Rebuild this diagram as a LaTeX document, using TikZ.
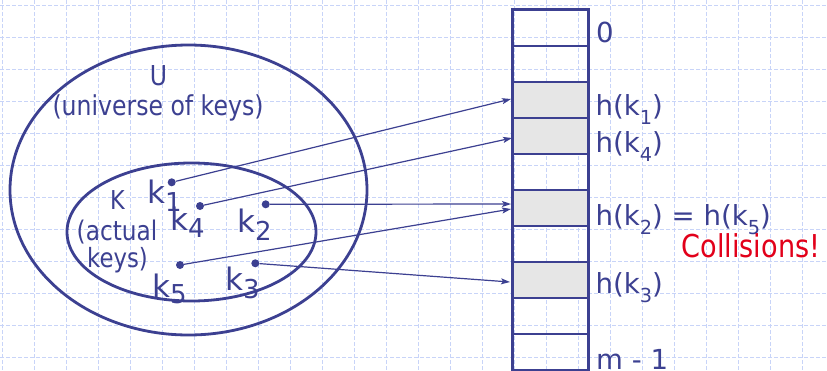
\documentclass[tikz,border=0pt]{standalone}
\usepackage{fontspec}
\setmainfont{DejaVu Sans}
\newfontfamily\narrowf[FakeStretch=0.86]{DejaVu Sans}
\usetikzlibrary{arrows.meta}
\definecolor{ink}{RGB}{60,64,145}
\definecolor{gridc}{RGB}{200,212,248}
\definecolor{cellg}{RGB}{230,230,230}
\definecolor{alert}{RGB}{226,0,26}
\newcommand\lowsub[3]{\raisebox{-#3pt}{\fontsize{#2}{#2}\selectfont #1}}
\begin{document}
\begin{tikzpicture}[x=1pt,y=-1pt,
  gridline/.style={gridc, line width=0.8pt, dash pattern=on 4pt off 2pt},
  lbl/.style={inner sep=0pt, text=ink, anchor=base west},
  ctr/.style={inner sep=0pt, text=ink, anchor=base},
  rightf/.style={font=\fontsize{27.6}{30}\selectfont},
  keyf/.style={font=\fontsize{31}{34}\selectfont},
  setline/.style={ink, line width=2.8pt},
  cellbox/.style={draw=ink, line width=1.5pt, minimum width=74.6pt, minimum height=36pt, inner sep=0pt, anchor=north west},
  shaded/.style={fill=cellg},
  dotn/.style={circle, fill=ink, inner sep=0pt, minimum size=8pt},
  mapto/.style={ink, line width=1.2pt, -{Stealth[length=9pt,width=6pt,inset=2pt]}}]

\fill[white] (0,0) rectangle (827,370);
\useasboundingbox (0,0) rectangle (827,370);
\foreach \i in {0,...,25} \draw[gridline] (2.5+32*\i,0) -- (2.5+32*\i,370);
\foreach \j in {0,...,11} \draw[gridline] (0,5+32*\j) -- (827,5+32*\j);

% sets
\draw[setline] (188.5,190) ellipse [x radius=178.5, y radius=145];
\draw[setline] (191.5,232) ellipse [x radius=124.5, y radius=69];

% table
\node[cellbox] (r0) at (512.7,9) {};
\node[cellbox] (r1) at (512.7,45) {};
\node[cellbox, shaded] (r2) at (512.7,81) {};
\node[cellbox, shaded] (r3) at (512.7,117) {};
\node[cellbox] (r4) at (512.7,153) {};
\node[cellbox, shaded] (r5) at (512.7,189) {};
\node[cellbox] (r6) at (512.7,225) {};
\node[cellbox, shaded] (r7) at (512.7,261) {};
\node[cellbox] (r8) at (512.7,297) {};
\node[cellbox] (r9) at (512.7,333) {};
\draw[ink, line width=3pt] (r0.north west) rectangle (r9.south east);

% labels of the set
\node[ctr, font=\narrowf\fontsize{27.4}{30}\selectfont] (ulab) at (158.5,85) {U};
\node[ctr, font=\narrowf\fontsize{27.4}{30}\selectfont] (ulab2) at (158,115) {(universe of keys)};
\node[ctr, font=\narrowf\fontsize{26}{29}\selectfont] (klab) at (117.5,209) {K};
\node[ctr, font=\narrowf\fontsize{27}{30}\selectfont] (klab2) at (117,240) {(actual};
\node[ctr, font=\narrowf\fontsize{26.5}{30}\selectfont] (klab3) at (117.5,267) {keys)};

% keys
\node[lbl, keyf] (k1) at (147,203) {k\lowsub{1}{26}{8}};
\node[lbl, keyf] (k4) at (170,230) {k\lowsub{4}{26}{7}};
\node[lbl, keyf] (k2) at (237,232) {k\lowsub{2}{26}{8}};
\node[lbl, keyf] (k5) at (152,297) {k\lowsub{5}{26}{6}};
\node[lbl, keyf] (k3) at (225,290) {k\lowsub{3}{26}{8}};

\node[dotn] (d1) at (171.7,182.3) {};
\node[dotn] (d4) at (200,206) {};
\node[dotn] (d2) at (265.7,204.3) {};
\node[dotn] (d5) at (180,265) {};
\node[dotn] (d3) at (255.3,263.3) {};

\coordinate (t1) at (511,99);
\coordinate (t4) at (512,138);
\coordinate (t2) at (511,204);
\coordinate (t5) at (511,209);
\coordinate (t3) at (510,282);

\draw[mapto] (d1) -- (t1);
\draw[mapto] (d4) -- (t4);
\draw[mapto] (d2) -- (t2);
\draw[mapto] (d5) -- (t5);
\draw[mapto] (d3) -- (t3);

% slot labels
\node[lbl, rightf] (s0) at (596,42) {0};
\node[lbl, rightf] (s1) at (595.5,115) {h(k\lowsub{1}{19.3}{9})};
\node[lbl, rightf] (s4) at (595.5,152) {h(k\lowsub{4}{19.3}{9})};
\node[lbl, rightf] (s2) at (595.5,225) {h(k\lowsub{2}{19.3}{9}) = h(k\lowsub{5}{19.3}{9})};
\node[lbl, rightf] (s3) at (595.5,293) {h(k\lowsub{3}{19.3}{9})};
\node[lbl, rightf] (sm) at (596,369) {m - 1};
\node[lbl, text=alert, font=\narrowf\fontsize{31.5}{34}\selectfont] (coll) at (681.5,257) {Collisions!};
\end{tikzpicture}
\end{document}
